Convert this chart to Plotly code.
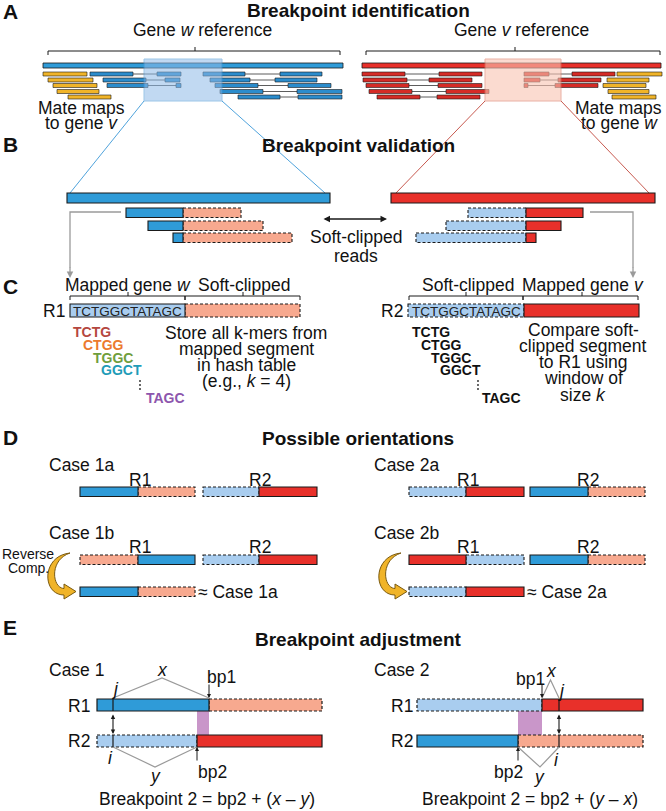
import plotly.graph_objects as go

W, H = 666, 811
FONT = "Liberation Sans, Arial, Helvetica, sans-serif"
BODY = 17.5
TITLE = 19

BLUE = "#2f9bd8"
DBLUE = "#2b8ccc"
RED = "#e8302a"
DRED = "#d52b26"
LBLUE = "#a9cdef"
PINK = "#f7a98f"
YELLOW = "#f0b429"
YEDGE = "#7a5a10"
PURPLE = "#c996c9"
EDGE = "#1a1a1a"
GRAY = "#9a9a9a"

# ---------------- Panel A data ----------------
A_ROW_Y = [72, 78, 83.5, 89.5, 95]
A_READ_H = 4
GENE_W_BAR = (43, 343, 63, 68)
GENE_V_BAR = (362, 661, 63, 68)
# (row, read1 start, read1 end, read2 start, read2 end)
GENE_W_PAIRS = [
    (0, 90, 133, 157, 181), (1, 103, 146, 165, 180), (2, 107, 148, 176, 181),
    (0, 203, 245, 280, 322), (1, 210, 250, 275, 317), (2, 215, 258, 288, 331),
    (3, 220, 263, 297, 342), (4, 238, 280, 298, 342),
]
GENE_W_MATES = [(0, 43, 87), (1, 48, 93), (2, 53, 97), (3, 57, 99), (4, 68, 111)]
GENE_V_PAIRS = [
    (0, 362, 405, 439, 482), (1, 363, 407, 429, 472), (2, 366, 409, 438, 482),
    (3, 369, 412, 446, 489), (4, 377, 420, 437, 480),
    (0, 524, 549, 572, 615), (1, 524, 540, 558, 601), (2, 524, 528, 555, 598),
]
GENE_V_MATES = [(0, 617, 662), (1, 607, 649), (2, 603, 646), (3, 608, 649), (4, 612, 656)]
ZOOM_W = (144, 222, 59, 101)
ZOOM_V = (485, 561, 59, 101)

# ---------------- Panel B data ----------------
B_BAR_W = (67, 330, 193, 203)
B_BAR_V = (391, 655, 193, 203)
B_ROW_Y = [208, 221, 233]
B_READ_H = 9.5
B_W_MAPPED = [(126, 183), (148, 183), (173, 183)]
B_W_CLIPPED = [(183, 241), (183, 263), (183, 292)]
B_V_CLIPPED = [(468, 526), (446, 526), (416, 526)]
B_V_MAPPED = [(526, 583), (526, 561), (526, 536)]

# ---------------- Panel C data ----------------
SEQ = "TCTGGCTATAGC"
KMERS = ["TCTG", "CTGG", "TGGC", "GGCT", "TAGC"]
KMER_COLORS = ["#b5473f", "#ec7a2e", "#6f9e3c", "#1f9cb8", "#8d56ad"]
KMER_Y = [332, 345, 357.5, 370, 397.5]
KMER_X_R1 = [72, 82, 92, 100, 145]
KMER_X_R2 = [411, 420, 430, 439, 481]
C_TEXT_L = ["Store all k-mers from", "mapped segment", "in hash table", "(e.g., <i>k</i> = 4)"]
C_TEXT_L_Y = [333, 349, 365, 381]
C_TEXT_R = ["Compare soft-", "clipped segment", "to R1 using", "window of", "size <i>k</i>"]
C_TEXT_R_Y = [330, 346, 362, 378, 395]

# ---------------- Panel D data ----------------
D_ROWS_Y = [487, 555, 587]
D_H = 9.5
# (row, x0, x1, kind) kind: B blue solid, R red solid, b light blue dashed, r pink dashed
D_SEGMENTS = [
    (0, 80, 138, "B"), (0, 138, 195, "r"), (0, 203, 259, "b"), (0, 259, 317, "R"),
    (1, 80, 138, "r"), (1, 138, 195, "B"), (1, 203, 259, "b"), (1, 259, 317, "R"),
    (2, 80, 138, "B"), (2, 138, 195, "r"),
    (0, 409, 466, "b"), (0, 466, 524, "R"), (0, 530, 588, "B"), (0, 588, 645, "r"),
    (1, 409, 466, "R"), (1, 466, 524, "b"), (1, 530, 588, "B"), (1, 588, 645, "r"),
    (2, 409, 466, "b"), (2, 466, 524, "R"),
]
CURVE_ARROW_X = [0, 331]  # horizontal offsets of the two reverse-complement arrows

# ---------------- Panel E data ----------------
E_R1_Y = (699, 711)
E_R2_Y = (735, 747)
E_SEGMENTS = [
    ("R1", 97, 209, "B"), ("R1", 209, 322, "r"), ("R2", 97, 197, "b"), ("R2", 197, 322, "R"),
    ("R1", 417, 542, "b"), ("R1", 542, 643, "R"), ("R2", 417, 518, "B"), ("R2", 518, 643, "r"),
]

shapes = []
annots = []

FILL = {"B": BLUE, "R": RED, "b": LBLUE, "r": PINK}
DASHED = {"B": False, "R": False, "b": True, "r": True}


def rect(x0, x1, y0, y1, fill, edge=EDGE, lw=1, dash="solid", opacity=1.0):
    shapes.append(dict(type="rect", xref="x", yref="y", x0=x0, x1=x1, y0=y0, y1=y1,
                       fillcolor=fill, opacity=opacity,
                       line=dict(color=edge, width=lw, dash=dash)))


def seg(x0, x1, y0, y1, kind, lw=1.1):
    rect(x0, x1, y0, y1, FILL[kind], EDGE, lw, "3px,2px" if DASHED[kind] else "solid")


def line(x0, y0, x1, y1, color=EDGE, lw=1, dash="solid"):
    shapes.append(dict(type="line", xref="x", yref="y", x0=x0, y0=y0, x1=x1, y1=y1,
                       line=dict(color=color, width=lw, dash=dash)))


def path(d, color=EDGE, lw=1, fill=None):
    s = dict(type="path", xref="x", yref="y", path=d, line=dict(color=color, width=lw))
    if fill:
        s["fillcolor"] = fill
    shapes.append(s)


def text(x, y, t, size=BODY, bold=False, color="#111111", xa="center", ya="middle"):
    if bold:
        t = "<b>" + t + "</b>"
    annots.append(dict(x=x, y=y, xref="x", yref="y", text=t, showarrow=False,
                       xanchor=xa, yanchor=ya, borderpad=0,
                       font=dict(family=FONT, size=size, color=color)))


def arrow(x0, y0, x1, y1, color=EDGE, lw=1, head=2, size=1.0, both=False):
    a = dict(x=x1, y=y1, ax=x0, ay=y0, xref="x", yref="y", axref="x", ayref="y",
             text="", showarrow=True, arrowhead=head, arrowsize=size, arrowwidth=lw,
             arrowcolor=color, standoff=0, startstandoff=0)
    if both:
        a["arrowside"] = "end+start"
        a["startarrowhead"] = head
        a["startarrowsize"] = size
    annots.append(a)


def bracket(x0, x1, xc, y):
    path(f"M {x0} {y+4} L {x0} {y} L {x1} {y} L {x1} {y+4}", EDGE, 1)
    line(xc, y, xc, y - 4, EDGE, 1)


# ---------------- Titles and panel letters ----------------
for lab, y in [("A", 11), ("B", 144), ("C", 286), ("D", 437), ("E", 627)]:
    text(2, y, lab, size=21, bold=True, xa="left")
for t, y in [("Breakpoint identification", 10), ("Breakpoint validation", 145),
             ("Possible orientations", 438), ("Breakpoint adjustment", 639)]:
    text(358, y, t, size=TITLE, bold=True)

# ---------------- Panel A ----------------
text(202, 30, "Gene <i>w</i> reference")
text(521, 30, "Gene <i>v</i> reference")
bracket(48, 340, 195, 51)
bracket(366, 660, 515, 51)
rect(GENE_W_BAR[0], GENE_W_BAR[1], GENE_W_BAR[2], GENE_W_BAR[3], BLUE, EDGE, 0.8)
rect(GENE_V_BAR[0], GENE_V_BAR[1], GENE_V_BAR[2], GENE_V_BAR[3], RED, EDGE, 0.8)
for row, a0, a1, b0, b1 in GENE_W_PAIRS:
    y0 = A_ROW_Y[row]
    line(a1, y0 + A_READ_H / 2, b0, y0 + A_READ_H / 2, "#333333", 0.8)
    rect(a0, a1, y0, y0 + A_READ_H, DBLUE, EDGE, 0.6)
    rect(b0, b1, y0, y0 + A_READ_H, DBLUE, EDGE, 0.6)
for row, a0, a1, b0, b1 in GENE_V_PAIRS:
    y0 = A_ROW_Y[row]
    line(a1, y0 + A_READ_H / 2, b0, y0 + A_READ_H / 2, "#333333", 0.8)
    rect(a0, a1, y0, y0 + A_READ_H, DRED, EDGE, 0.6)
    rect(b0, b1, y0, y0 + A_READ_H, DRED, EDGE, 0.6)
for row, x0, x1 in GENE_W_MATES + GENE_V_MATES:
    y0 = A_ROW_Y[row]
    rect(x0, x1, y0, y0 + A_READ_H, YELLOW, EDGE, 0.6)
rect(ZOOM_W[0], ZOOM_W[1], ZOOM_W[2], ZOOM_W[3], "#8fbbe8", "#4f9ad6", 1, opacity=0.55)
rect(ZOOM_V[0], ZOOM_V[1], ZOOM_V[2], ZOOM_V[3], "#f9c4b2", "#dc7f6a", 1, opacity=0.6)
text(81, 108, "Mate maps")
text(81, 123, "to gene <i>v</i>")
text(663, 108, "Mate maps", xa="right")
text(659, 123, "to gene <i>w</i>", xa="right")

# zoom lines A -> B
line(ZOOM_W[0], ZOOM_W[3], B_BAR_W[0] + 3, B_BAR_W[2], "#4fa3dc", 1)
line(ZOOM_W[1], ZOOM_W[3], B_BAR_W[1] - 5, B_BAR_W[2], "#4fa3dc", 1)
line(ZOOM_V[0], ZOOM_V[3], B_BAR_V[0] + 5, B_BAR_V[2], "#c85a50", 1)
line(ZOOM_V[1], ZOOM_V[3], B_BAR_V[1] - 6, B_BAR_V[2], "#c85a50", 1)

# ---------------- Panel B ----------------
rect(*B_BAR_W, BLUE, EDGE, 1.1)
rect(*B_BAR_V, RED, EDGE, 1.1)
for y0, (m0, m1), (c0, c1) in zip(B_ROW_Y, B_W_MAPPED, B_W_CLIPPED):
    seg(c0, c1, y0, y0 + B_READ_H, "r")
    seg(m0, m1, y0, y0 + B_READ_H, "B")
for y0, (c0, c1), (m0, m1) in zip(B_ROW_Y, B_V_CLIPPED, B_V_MAPPED):
    seg(c0, c1, y0, y0 + B_READ_H, "b")
    seg(m0, m1, y0, y0 + B_READ_H, "R")
arrow(322, 219, 387, 219, EDGE, 1.3, head=2, size=1.0, both=True)
text(356, 237, "Soft-clipped")
text(356, 256, "reads")
path("M 121 212 L 70 212 L 70 268", GRAY, 1.3)
arrow(70, 266, 70, 278, GRAY, 1.3, head=2, size=1.0)
path("M 590 212 L 633 212 L 633 268", GRAY, 1.3)
arrow(633, 266, 633, 278, GRAY, 1.3, head=2, size=1.0)

# ---------------- Panel C ----------------
text(128, 285, "Mapped gene <i>w</i>")
text(244, 285, "Soft-clipped")
bracket(70, 185, 128, 296)
bracket(185, 300, 243, 296)
text(468, 285, "Soft-clipped")
text(583, 285, "Mapped gene <i>v</i>")
bracket(409, 523, 466, 296)
bracket(523, 638, 582, 296)
text(66, 311, "R1", xa="right")
seg(185, 300, 304, 317, "r")
seg(70, 185, 304, 317, "B")
shapes[-1]["fillcolor"] = LBLUE
text(127.5, 311, SEQ, size=13.5, color="#222222")
text(404, 311, "R2", xa="right")
seg(408, 524, 304, 317, "b")
seg(524, 639, 304, 317, "R")
text(466, 311, SEQ, size=13.5, color="#222222")
for k, col, y, x in zip(KMERS, KMER_COLORS, KMER_Y, KMER_X_R1):
    text(x, y, k, size=14, bold=True, color=col, xa="left")
for k, y, x in zip(KMERS, KMER_Y, KMER_X_R2):
    text(x, y, k, size=14, bold=True, color="#111111", xa="left")
for xd in (140, 478):
    for yd in (381, 385, 389):
        shapes.append(dict(type="circle", xref="x", yref="y", x0=xd - 0.9, x1=xd + 0.9,
                           y0=yd - 0.9, y1=yd + 0.9, fillcolor="#222222",
                           line=dict(width=0)))
for t, y in zip(C_TEXT_L, C_TEXT_L_Y):
    text(246, y, t)
for t, y in zip(C_TEXT_R, C_TEXT_R_Y):
    text(583, y, t)

# ---------------- Panel D ----------------
for x, lab in [(48, "Case 1a"), (373, "Case 2a")]:
    text(x, 465, lab, xa="left")
for x, lab in [(48, "Case 1b"), (373, "Case 2b")]:
    text(x, 533, lab, xa="left")
for y in (480, 547):
    for x, lab in [(140, "R1"), (260, "R2"), (468, "R1"), (588, "R2")]:
        text(x, y, lab)
for row, x0, x1, kind in D_SEGMENTS:
    if DASHED[kind]:
        y0 = D_ROWS_Y[row]
        seg(x0, x1, y0, y0 + D_H, kind)
for row, x0, x1, kind in D_SEGMENTS:
    if not DASHED[kind]:
        y0 = D_ROWS_Y[row]
        seg(x0, x1, y0, y0 + D_H, kind)
text(197, 592, "≈ Case 1a", xa="left")
text(526, 592, "≈ Case 2a", xa="left")
text(28, 554, "Reverse", size=14)
text(28, 568, "Comp.", size=14)


def curved_arrow(dx):
    def p(x, y):
        return f"{x + dx} {y}"
    d = (f"M {p(70, 553)} C {p(41, 556)}, {p(42, 595)}, {p(64, 595)} "
         f"L {p(64, 599)} L {p(76, 591.5)} L {p(64, 584)} L {p(64, 588.5)} "
         f"C {p(52, 588)}, {p(49, 560)}, {p(70, 553)} Z")
    path(d, YEDGE, 1, fill=YELLOW)


for dx in CURVE_ARROW_X:
    curved_arrow(dx)

# ---------------- Panel E ----------------
text(48, 670, "Case 1", xa="left")
text(373, 670, "Case 2", xa="left")
text(91, 706, "R1", xa="right")
text(91, 741, "R2", xa="right")
text(414, 706, "R1", xa="right")
text(414, 741, "R2", xa="right")
rect(197, 209, 711, 735, PURPLE, PURPLE, 0)
rect(518, 542, 711, 735, PURPLE, PURPLE, 0)
for rn, x0, x1, kind in E_SEGMENTS:
    y0, y1 = E_R1_Y if rn == "R1" else E_R2_Y
    if DASHED[kind]:
        seg(x0, x1, y0, y1, kind, 1.2)
for rn, x0, x1, kind in E_SEGMENTS:
    y0, y1 = E_R1_Y if rn == "R1" else E_R2_Y
    if not DASHED[kind]:
        seg(x0, x1, y0, y1, kind, 1.2)
# j / i marks
for xm in (113, 559):
    line(xm, E_R1_Y[0], xm, E_R1_Y[1], EDGE, 1.2)
    line(xm, E_R2_Y[0], xm, E_R2_Y[1], EDGE, 1.2)
    arrow(xm, 713, xm, 734, EDGE, 1.1, head=2, size=0.8, both=True)
# gray triangles
path("M 113 698 L 162 678 L 209 698", GRAY, 1.2)
path("M 113 747 L 155 767 L 197 747", GRAY, 1.2)
path("M 542 698 L 550.5 680 L 559 698", GRAY, 1.2)
path("M 518 747 L 540 767 L 559 747", GRAY, 1.2)
# bp arrows
arrow(209, 683, 209, 698, EDGE, 1, head=2, size=0.8)
arrow(197, 762, 197, 747, EDGE, 1, head=2, size=0.8)
arrow(542, 683, 542, 698, EDGE, 1, head=2, size=0.8)
arrow(518, 762, 518, 747, EDGE, 1, head=2, size=0.8)
text(115, 689, "<i>j</i>")
text(162, 670, "<i>x</i>")
text(221, 677, "bp1")
text(110, 758, "<i>i</i>")
text(155, 776, "<i>y</i>")
text(212, 772, "bp2")
text(561, 691, "<i>j</i>")
text(551, 671, "<i>x</i>")
text(530, 679, "bp1")
text(556, 760, "<i>i</i>")
text(539, 777, "<i>y</i>")
text(508, 772, "bp2")
text(207, 799, "Breakpoint 2 = bp2 + (<i>x</i> – <i>y</i>)")
text(530, 799, "Breakpoint 2 = bp2 + (<i>y</i> – <i>x</i>)")

fig = go.Figure()
fig.add_trace(go.Scatter(x=[0, W], y=[0, H], mode="markers",
                         marker=dict(opacity=0), hoverinfo="skip", showlegend=False))
fig.update_layout(
    width=W, height=H, autosize=False,
    margin=dict(l=0, r=0, t=0, b=0),
    paper_bgcolor="white", plot_bgcolor="white",
    xaxis=dict(range=[0, W], visible=False, fixedrange=True),
    yaxis=dict(range=[H, 0], visible=False, fixedrange=True),
    shapes=shapes, annotations=annots, showlegend=False,
)
fig.write_html(
    "out.html",
    config={"displayModeBar": False, "staticPlot": True},
    post_script="document.body.style.margin='0px';document.body.style.overflow='hidden';",
)
